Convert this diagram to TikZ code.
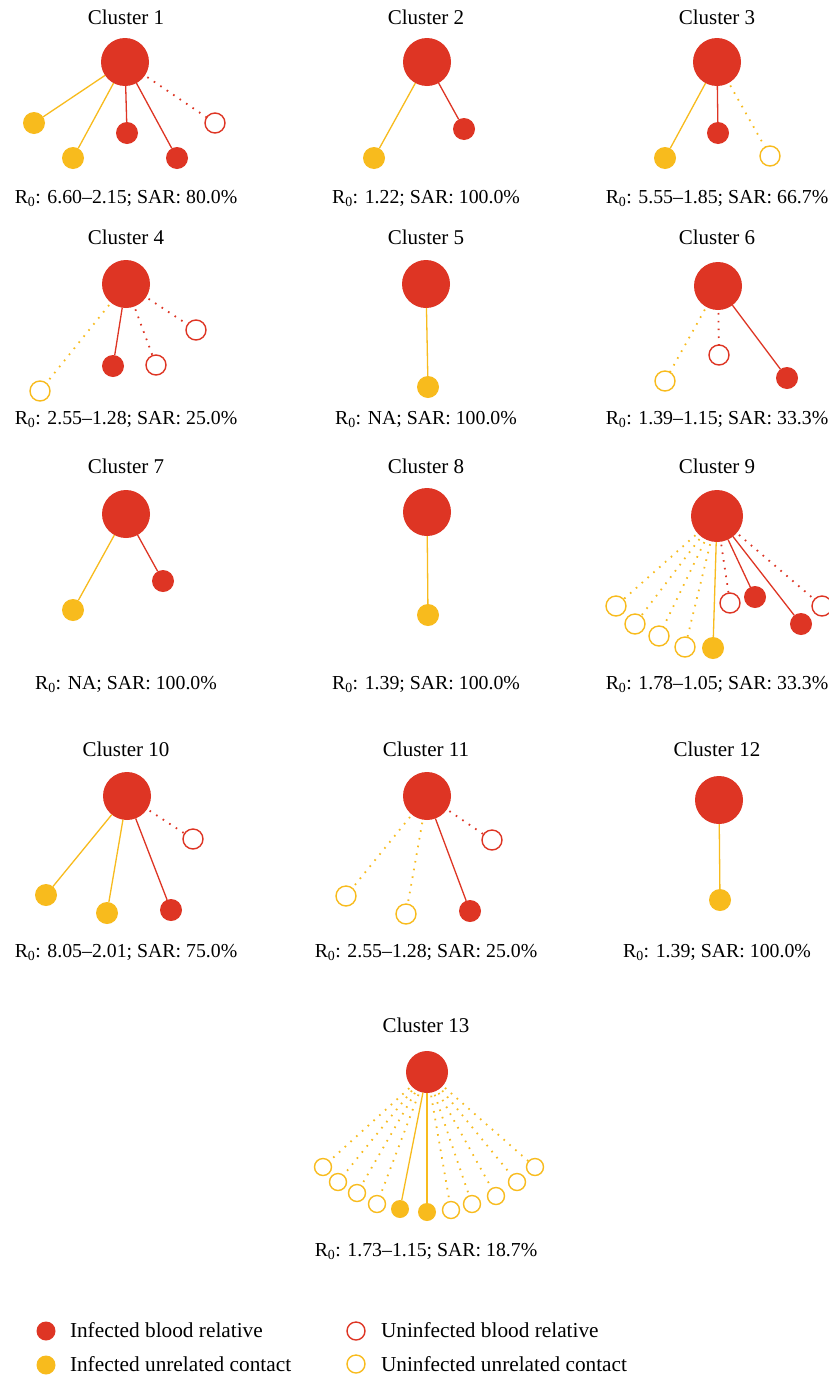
\documentclass[tikz,border=0pt]{standalone}
\usepackage{fontspec}
\setmainfont{Liberation Serif}
\definecolor{cred}{HTML}{DE3524}
\definecolor{cyel}{HTML}{F8BB1D}
\begin{document}
\begin{tikzpicture}[x=1pt,y=-1pt,
  every node/.style={inner sep=0pt,outer sep=0pt},
  big/.style={circle,fill=cred,minimum size=48pt},
  rf/.style={circle,fill=cred,minimum size=22pt},
  yf/.style={circle,fill=cyel,minimum size=22pt},
  ro/.style={circle,draw=cred,line width=1.4pt,fill=white,minimum size=20pt},
  yo/.style={circle,draw=cyel,line width=1.4pt,fill=white,minimum size=20pt},
  rsol/.style={draw=cred,line width=1.3pt},
  ysol/.style={draw=cyel,line width=1.3pt},
  rdot/.style={draw=cred,line width=1.8pt,dash pattern=on 1.6pt off 6.2pt,shorten <=3pt},
  ydot/.style={draw=cyel,line width=1.8pt,dash pattern=on 1.6pt off 6.2pt,shorten <=3pt},
  ttl/.style={anchor=base,font=\fontsize{21}{24}\selectfont},
  lbl/.style={anchor=base,font=\fontsize{19.8}{23}\selectfont},
  leg/.style={anchor=base west,font=\fontsize{21.3}{24}\selectfont}]
\useasboundingbox (0,0) rectangle (829,1376);
\fill[white] (0,0) rectangle (829,1376);

% Cluster 1
\node[ttl] (t1) at (126,24) {Cluster 1};
\node[big] (c1) at (125,62) {};
\node[yf] (c1a) at (34,123) {};
\node[yf] (c1b) at (73,158) {};
\node[rf] (c1c) at (127,133) {};
\node[rf] (c1d) at (177,158) {};
\node[ro] (c1e) at (215,123) {};
\draw[ysol] (c1) -- (c1a);
\draw[ysol] (c1) -- (c1b);
\draw[rsol] (c1) -- (c1c);
\draw[rsol] (c1) -- (c1d);
\draw[rdot] (c1) -- (c1e);
\node[lbl] (l1) at (126,203) {R\textsubscript{0}: 6.60--2.15; SAR: 80.0\%};

% Cluster 2
\node[ttl] (t2) at (426,24) {Cluster 2};
\node[big] (c2) at (427,62) {};
\node[yf] (c2a) at (374,158) {};
\node[rf] (c2b) at (464,129) {};
\draw[ysol] (c2) -- (c2a);
\draw[rsol] (c2) -- (c2b);
\node[lbl] (l2) at (426,203) {R\textsubscript{0}: 1.22; SAR: 100.0\%};

% Cluster 3
\node[ttl] (t3) at (717,24) {Cluster 3};
\node[big] (c3) at (717,62) {};
\node[yf] (c3a) at (665,158) {};
\node[rf] (c3b) at (718,133) {};
\node[yo] (c3c) at (770,156) {};
\draw[ysol] (c3) -- (c3a);
\draw[rsol] (c3) -- (c3b);
\draw[ydot] (c3) -- (c3c);
\node[lbl] (l3) at (717,203) {R\textsubscript{0}: 5.55--1.85; SAR: 66.7\%};

% Cluster 4
\node[ttl] (t4) at (126,244) {Cluster 4};
\node[big] (c4) at (126,284) {};
\node[yo] (c4a) at (40,391) {};
\node[rf] (c4b) at (113,366) {};
\node[ro] (c4c) at (156,365) {};
\node[ro] (c4d) at (196,330) {};
\draw[ydot] (c4) -- (c4a);
\draw[rsol] (c4) -- (c4b);
\draw[rdot] (c4) -- (c4c);
\draw[rdot] (c4) -- (c4d);
\node[lbl] (l4) at (126,424) {R\textsubscript{0}: 2.55--1.28; SAR: 25.0\%};

% Cluster 5
\node[ttl] (t5) at (426,244) {Cluster 5};
\node[big] (c5) at (426,284) {};
\node[yf] (c5a) at (428,387) {};
\draw[ysol] (c5) -- (c5a);
\node[lbl] (l5) at (426,424) {R\textsubscript{0}: NA; SAR: 100.0\%};

% Cluster 6
\node[ttl] (t6) at (717,244) {Cluster 6};
\node[big] (c6) at (718,286) {};
\node[yo] (c6a) at (665,381) {};
\node[ro] (c6b) at (719,355) {};
\node[rf] (c6c) at (787,378) {};
\draw[ydot] (c6) -- (c6a);
\draw[rdot] (c6) -- (c6b);
\draw[rsol] (c6) -- (c6c);
\node[lbl] (l6) at (717,424) {R\textsubscript{0}: 1.39--1.15; SAR: 33.3\%};

% Cluster 7
\node[ttl] (t7) at (126,473) {Cluster 7};
\node[big] (c7) at (126,514) {};
\node[yf] (c7a) at (73,610) {};
\node[rf] (c7b) at (163,581) {};
\draw[ysol] (c7) -- (c7a);
\draw[rsol] (c7) -- (c7b);
\node[lbl] (l7) at (126,689) {R\textsubscript{0}: NA; SAR: 100.0\%};

% Cluster 8
\node[ttl] (t8) at (426,473) {Cluster 8};
\node[big] (c8) at (427,512) {};
\node[yf] (c8a) at (428,615) {};
\draw[ysol] (c8) -- (c8a);
\node[lbl] (l8) at (426,689) {R\textsubscript{0}: 1.39; SAR: 100.0\%};

% Cluster 9
\node[ttl] (t9) at (717,473) {Cluster 9};
\node[big,minimum size=52pt] (c9) at (717,516) {};
\node[yo] (c9a) at (616,606) {};
\node[yo] (c9b) at (635,624) {};
\node[yo] (c9c) at (659,636) {};
\node[yo] (c9d) at (685,647) {};
\node[yf] (c9e) at (713,648) {};
\node[ro] (c9f) at (730,603) {};
\node[rf] (c9g) at (755,597) {};
\node[rf] (c9h) at (801,624) {};
\node[ro] (c9i) at (822,606) {};
\draw[ydot] (c9) -- (c9a);
\draw[ydot] (c9) -- (c9b);
\draw[ydot] (c9) -- (c9c);
\draw[ydot] (c9) -- (c9d);
\draw[ysol] (c9) -- (c9e);
\draw[rdot] (c9) -- (c9f);
\draw[rsol] (c9) -- (c9g);
\draw[rsol] (c9) -- (c9h);
\draw[rdot] (c9) -- (c9i);
\node[lbl] (l9) at (717,689) {R\textsubscript{0}: 1.78--1.05; SAR: 33.3\%};

% Cluster 10
\node[ttl] (t10) at (126,756) {Cluster 10};
\node[big] (c10) at (127,796) {};
\node[yf] (c10a) at (46,895) {};
\node[yf] (c10b) at (107,913) {};
\node[rf] (c10c) at (171,910) {};
\node[ro] (c10d) at (193,839) {};
\draw[ysol] (c10) -- (c10a);
\draw[ysol] (c10) -- (c10b);
\draw[rsol] (c10) -- (c10c);
\draw[rdot] (c10) -- (c10d);
\node[lbl] (l10) at (126,957) {R\textsubscript{0}: 8.05--2.01; SAR: 75.0\%};

% Cluster 11
\node[ttl] (t11) at (426,756) {Cluster 11};
\node[big] (c11) at (427,796) {};
\node[yo] (c11a) at (346,896) {};
\node[yo] (c11b) at (406,914) {};
\node[rf] (c11c) at (470,911) {};
\node[ro] (c11d) at (492,840) {};
\draw[ydot] (c11) -- (c11a);
\draw[ydot] (c11) -- (c11b);
\draw[rsol] (c11) -- (c11c);
\draw[rdot] (c11) -- (c11d);
\node[lbl] (l11) at (426,957) {R\textsubscript{0}: 2.55--1.28; SAR: 25.0\%};

% Cluster 12
\node[ttl] (t12) at (717,756) {Cluster 12};
\node[big] (c12) at (719,800) {};
\node[yf] (c12a) at (720,900) {};
\draw[ysol] (c12) -- (c12a);
\node[lbl] (l12) at (717,957) {R\textsubscript{0}: 1.39; SAR: 100.0\%};

% Cluster 13
\node[ttl] (t13) at (426,1032) {Cluster 13};
\node[big,minimum size=42pt] (c13) at (427,1072) {};
\node[yo,minimum size=17pt] (c13a) at (323,1167) {};
\node[yo,minimum size=17pt] (c13b) at (338,1182) {};
\node[yo,minimum size=17pt] (c13c) at (357,1193) {};
\node[yo,minimum size=17pt] (c13d) at (377,1204) {};
\node[yf,minimum size=18pt] (c13e) at (400,1209) {};
\node[yf,minimum size=18pt] (c13f) at (427,1212) {};
\node[yo,minimum size=17pt] (c13g) at (451,1210) {};
\node[yo,minimum size=17pt] (c13h) at (472,1204) {};
\node[yo,minimum size=17pt] (c13i) at (496,1196) {};
\node[yo,minimum size=17pt] (c13j) at (517,1182) {};
\node[yo,minimum size=17pt] (c13k) at (535,1167) {};
\foreach \n in {a,b,c,d,g,h,i,j,k} {\draw[ydot] (c13) -- (c13\n);}
\draw[ysol] (c13) -- (c13e);
\draw[ysol] (c13) -- (c13f);
\node[lbl] (l13) at (426,1256) {R\textsubscript{0}: 1.73--1.15; SAR: 18.7\%};

% Legend
\node[rf,minimum size=19pt] (g1) at (46,1331) {};
\node[leg] (g1t) at (70,1337) {Infected blood relative};
\node[yf,minimum size=19pt] (g2) at (46,1365) {};
\node[leg] (g2t) at (70,1371) {Infected unrelated contact};
\node[ro,minimum size=18pt] (g3) at (356,1331) {};
\node[leg] (g3t) at (381,1337) {Uninfected blood relative};
\node[yo,minimum size=18pt] (g4) at (356,1364) {};
\node[leg] (g4t) at (381,1371) {Uninfected unrelated contact};
\end{tikzpicture}
\end{document}
